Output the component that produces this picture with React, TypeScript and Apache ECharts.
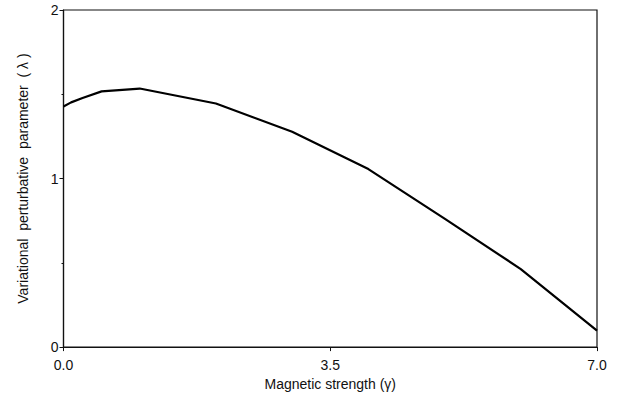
import React, { useEffect, useRef } from "react";
import * as echarts from "echarts";

const gamma = [0, 0.1, 0.25, 0.5, 1.0, 1.5, 2.0, 3.0, 4.0, 5.0, 6.0, 7.0];
const lambda = [1.428, 1.452, 1.478, 1.517, 1.534, 1.49, 1.445, 1.278, 1.056, 0.762, 0.463, 0.098];
const xTicks = [0, 3.5, 7.0];
const yTicks = [0, 1, 2];

export default function App() {
  const ref = useRef<HTMLDivElement>(null);
  useEffect(() => {
    document.body.style.margin = "0";
    const chart = echarts.init(ref.current!, null, { renderer: "svg" });
    const font = "'Liberation Sans', Arial, sans-serif";
    chart.setOption({
      animation: false,
      backgroundColor: "#fff",
      grid: {
        left: 63.5,
        right: 21,
        top: 10,
        bottom: 47,
        show: true,
        borderColor: "#111",
        borderWidth: 1.2,
      },
      xAxis: {
        type: "value",
        min: xTicks[0],
        max: xTicks[xTicks.length - 1],
        interval: 3.5,
        name: "Magnetic strength (\u03b3)",
        nameLocation: "middle",
        nameGap: 27,
        nameTextStyle: { color: "#111", fontSize: 14, fontFamily: font },
        axisLine: { lineStyle: { color: "#111", width: 1.2 } },
        axisTick: { show: true, length: 4, lineStyle: { color: "#111" } },
        axisLabel: {
          color: "#111",
          fontSize: 14,
          fontFamily: font,
          margin: 11,
          formatter: (v: number) => v.toFixed(1),
        },
        splitLine: { show: false },
      },
      yAxis: {
        type: "value",
        min: yTicks[0],
        max: yTicks[yTicks.length - 1],
        interval: 1,
        name: "Variational  perturbative  parameter  ( \u03bb )",
        nameLocation: "middle",
        nameGap: 34,
        nameTextStyle: { color: "#111", fontSize: 14, fontFamily: font },
        axisLine: { lineStyle: { color: "#111", width: 1.2 } },
        axisTick: { show: true, length: 4, lineStyle: { color: "#111" } },
        minorTick: { show: true, splitNumber: 2, length: 2, lineStyle: { color: "#111" } },
        axisLabel: {
          color: "#111",
          fontSize: 14,
          fontFamily: font,
          margin: 5,
        },
        splitLine: { show: false },
      },
      series: [
        {
          type: "line",
          data: gamma.map((g, i) => [g, lambda[i]]),
          showSymbol: false,
          lineStyle: { color: "#000", width: 2.2 },
          smooth: false,
        },
      ],
    });
    return () => chart.dispose();
  }, []);
  return <div ref={ref} style={{ width: 618, height: 396 }} />;
}
